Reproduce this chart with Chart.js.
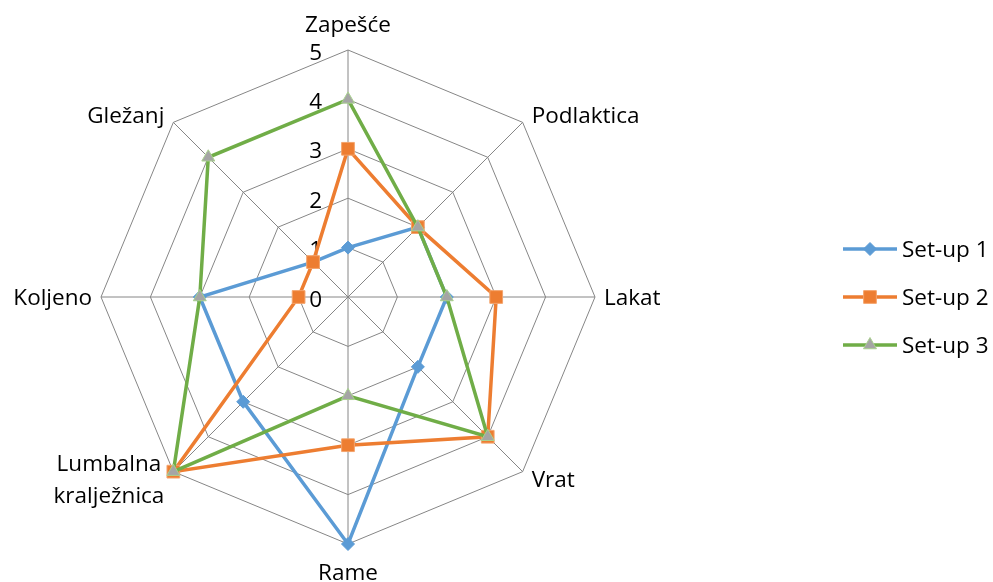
<!DOCTYPE html>
<html>
<head>
    <meta charset="utf-8">
    <title>Radar chart</title>
    <script src="https://cdn.jsdelivr.net/npm/chart.js@4.4.0/dist/chart.umd.min.js"></script>
    <style>
    html, body { margin: 0; padding: 0; background: #fff; }
    #container { width: 993px; height: 582px; }
    </style>
</head>
<body>
  <div id="container">
    <canvas id="myCanvas"></canvas>
  </div>

  <script>
  // categories (clockwise from top)
  var categories = ['Zapešće', 'Podlaktica', 'Lakat', 'Vrat', 'Rame', ['Lumbalna', 'kralježnica'], 'Koljeno', 'Gležanj'];
  var seriesNames = ['Set-up 1', 'Set-up 2', 'Set-up 3'];
  var setup1 = [1, 2, 2, 2, 5, 3, 3, 1];
  var setup2 = [3, 2, 3, 4, 3, 5, 1, 1];
  var setup3 = [4, 2, 2, 4, 2, 5, 3, 4];
  var tickValues = [0, 1, 2, 3, 4, 5];

  var FONT = '"Open Sans", "DejaVu Sans", sans-serif';
  var FONT_PX = 22.5;

  // tick numbers sit left of the top axis, like the original
  var tickLabels = {
    id: 'tickLabels',
    beforeDatasetsDraw: function(chart) {
      var s = chart.scales.r;
      var ctx = chart.ctx;
      ctx.save();
      ctx.font = FONT_PX + 'px ' + FONT;
      ctx.fillStyle = '#000';
      ctx.textAlign = 'right';
      ctx.textBaseline = 'alphabetic';
      tickValues.forEach(function(v) {
        var d = s.getDistanceFromCenterForValue(v);
        ctx.fillText(String(v), s.xCenter - 26, s.yCenter - d + 9.5);
      });
      ctx.restore();
    }
  };

  // category labels placed Excel-like around the outer ring
  var categoryLabels = {
    id: 'categoryLabels',
    afterDraw: function(chart) {
      var s = chart.scales.r;
      var ctx = chart.ctx;
      var r = s.drawingArea;
      ctx.save();
      ctx.font = FONT_PX + 'px ' + FONT;
      ctx.fillStyle = '#000';
      ctx.textBaseline = 'alphabetic';
      chart.data.labels.forEach(function(lab, i) {
        var lines = Array.isArray(lab) ? lab : [lab];
        var pt = s.getPointPosition(i, r);
        var dx = pt.x - s.xCenter;
        var dy = pt.y - s.yCenter;
        var lineH = 32;
        var maxW = Math.max.apply(null, lines.map(function(t) { return ctx.measureText(t).width; }));
        var cx, base;
        if (Math.abs(dx) < 1) {
          cx = pt.x;
          base = dy < 0 ? pt.y - 18 : pt.y + 36;
        } else {
          cx = dx > 0 ? pt.x + 9 + maxW / 2 : pt.x - 9 - maxW / 2;
          base = pt.y + 8 + 10 * dy / r;
        }
        ctx.textAlign = 'center';
        lines.forEach(function(t, k) {
          var off = (k - (lines.length - 1) / 2) * lineH;
          ctx.fillText(t, cx, base + off);
        });
      });
      ctx.restore();
    }
  };

  // legend with line + marker, Excel style
  var lineLegend = {
    id: 'lineLegend',
    afterDraw: function(chart) {
      var ctx = chart.ctx;
      var s = chart.scales.r;
      ctx.save();
      chart.data.datasets.forEach(function(ds, i) {
        var y = s.yCenter + (i - 1) * 48;
        ctx.strokeStyle = ds.borderColor;
        ctx.lineWidth = ds.borderWidth;
        ctx.beginPath();
        ctx.moveTo(843, y);
        ctx.lineTo(897, y);
        ctx.stroke();
        ctx.fillStyle = ds.pointBackgroundColor;
        ctx.strokeStyle = ds.pointBorderColor;
        ctx.lineWidth = 1;
        Chart.helpers.drawPoint(ctx, {
          pointStyle: ds.pointStyle,
          radius: ds.pointRadius,
          rotation: 0,
          borderWidth: 1
        }, 870, y);
        ctx.fillStyle = '#000';
        ctx.font = FONT_PX + 'px ' + FONT;
        ctx.textAlign = 'left';
        ctx.textBaseline = 'alphabetic';
        ctx.fillText(ds.label, 902, y + 8);
      });
      ctx.restore();
    }
  };

  new Chart(document.getElementById('myCanvas'), {
    type: 'radar',
    data: {
      labels: categories,
      datasets: [{
        label: seriesNames[0],
        data: setup1,
        borderColor: '#5B9BD5',
        borderWidth: 3.5,
        pointStyle: 'rectRot',
        pointRadius: 6.5,
        pointBackgroundColor: '#5B9BD5',
        pointBorderColor: '#5B9BD5',
        pointBorderWidth: 1,
        fill: false,
        order: 3
      }, {
        label: seriesNames[1],
        data: setup2,
        borderColor: '#ED7D31',
        borderWidth: 3.5,
        pointStyle: 'rect',
        pointRadius: 9,
        pointBackgroundColor: '#ED7D31',
        pointBorderColor: '#F4A46C',
        pointBorderWidth: 1,
        fill: false,
        order: 2
      }, {
        label: seriesNames[2],
        data: setup3,
        borderColor: '#70AD47',
        borderWidth: 3.5,
        pointStyle: 'triangle',
        pointRadius: 7.5,
        pointBackgroundColor: '#A5A5A5',
        pointBorderColor: '#A9D18E',
        pointBorderWidth: 1,
        fill: false,
        order: 1
      }]
    },
    options: {
      responsive: true,
      maintainAspectRatio: false,
      animation: false,
      layout: {
        padding: { top: 50, bottom: 38, left: 0, right: 297 }
      },
      elements: {
        line: { tension: 0 }
      },
      plugins: {
        legend: { display: false },
        tooltip: { enabled: false }
      },
      scales: {
        r: {
          min: 0,
          max: 5,
          ticks: { stepSize: 1, display: false },
          grid: { color: '#868686', lineWidth: 1 },
          angleLines: { color: '#868686', lineWidth: 1 },
          pointLabels: { display: false }
        }
      }
    },
    plugins: [tickLabels, categoryLabels, lineLegend]
  });
  </script>
</body>
</html>
